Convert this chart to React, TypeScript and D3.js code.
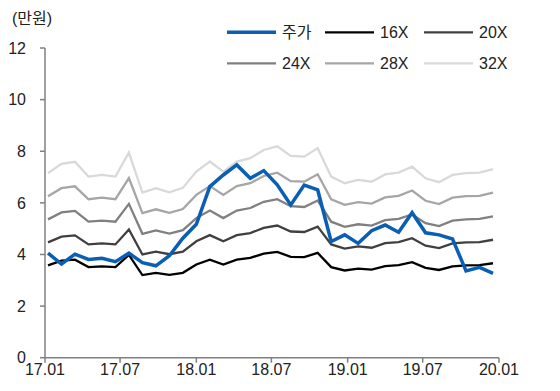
import * as d3 from 'd3';

// monthly points, 17.01 ~
const price = [4.05, 3.63, 4.01, 3.81, 3.85, 3.72, 4.05, 3.68, 3.56, 3.95, 4.63, 5.17, 6.63, 7.08, 7.47, 6.95, 7.25, 6.7, 5.92, 6.69, 6.5, 4.5, 4.76, 4.43, 4.92, 5.14, 4.86, 5.62, 4.84, 4.76, 4.6, 3.36, 3.5, 3.27];
const per16 = [3.58, 3.76, 3.80, 3.51, 3.54, 3.51, 3.98, 3.20, 3.29, 3.21, 3.29, 3.61, 3.80, 3.61, 3.80, 3.87, 4.03, 4.10, 3.91, 3.90, 4.06, 3.51, 3.38, 3.45, 3.41, 3.55, 3.59, 3.70, 3.48, 3.40, 3.54, 3.58, 3.59, 3.66];
const per20 = [4.47, 4.69, 4.74, 4.39, 4.43, 4.39, 4.97, 4.00, 4.11, 4.01, 4.11, 4.51, 4.75, 4.51, 4.75, 4.83, 5.03, 5.12, 4.89, 4.87, 5.08, 4.39, 4.23, 4.31, 4.26, 4.44, 4.48, 4.63, 4.34, 4.25, 4.43, 4.47, 4.48, 4.57];
const per24 = [5.36, 5.63, 5.69, 5.27, 5.31, 5.27, 5.96, 4.80, 4.93, 4.81, 4.94, 5.41, 5.70, 5.41, 5.70, 5.80, 6.04, 6.14, 5.87, 5.84, 6.09, 5.27, 5.07, 5.17, 5.12, 5.33, 5.38, 5.55, 5.21, 5.10, 5.31, 5.36, 5.38, 5.48];
const per28 = [6.26, 6.57, 6.64, 6.14, 6.20, 6.14, 6.96, 5.60, 5.75, 5.61, 5.76, 6.31, 6.65, 6.31, 6.65, 6.76, 7.04, 7.17, 6.84, 6.82, 7.11, 6.14, 5.92, 6.03, 5.97, 6.21, 6.27, 6.48, 6.08, 5.95, 6.20, 6.26, 6.27, 6.40];
const per32 = [7.15, 7.51, 7.59, 7.02, 7.08, 7.02, 7.95, 6.40, 6.57, 6.41, 6.58, 7.21, 7.60, 7.21, 7.60, 7.73, 8.05, 8.19, 7.82, 7.79, 8.12, 7.02, 6.76, 6.89, 6.82, 7.10, 7.17, 7.40, 6.95, 6.80, 7.08, 7.15, 7.17, 7.31];

const seriesNames = ['주가', '16X', '20X', '24X', '28X', '32X'];
const yTicks = [0, 2, 4, 6, 8, 10, 12];

const width = 560;
const height = 391;
const left = 45;
const right = 499;
const top = 48;
const bottom = 357.7;

const font = '"Liberation Sans", Arial, "Noto Sans CJK KR", sans-serif';

export default function App() {
  const y = d3.scaleLinear().domain([0, 12]).range([bottom, top]);
  const xTime = d3.scaleTime()
    .domain([new Date(2017, 0, 1), new Date(2020, 0, 1)])
    .range([left, right]);
  const xIdx = d3.scaleLinear().domain([0, price.length - 1]).range([48, 493]);
  const xTicks = xTime.ticks(d3.timeMonth.every(6));
  const fmt = d3.timeFormat('%y.%m');

  const line = d3.line<number>().x((d, i) => xIdx(i)).y(d => y(d));

  const series = [
    {name: seriesNames[5], data: per32, color: '#d9d9d9', w: 2.3},
    {name: seriesNames[4], data: per28, color: '#a6a6a6', w: 2.3},
    {name: seriesNames[3], data: per24, color: '#808080', w: 2.3},
    {name: seriesNames[2], data: per20, color: '#404040', w: 2.3},
    {name: seriesNames[1], data: per16, color: '#000000', w: 2.3},
    {name: seriesNames[0], data: price, color: '#0a5fb4', w: 3.5},
  ];
  const byName = (n: string) => series.find(s => s.name === n)!;

  // legend: 2 rows x 3
  const legendCols = [227, 325, 424];
  const legendRows = [32.3, 63.3];

  return (
    <svg width={width} height={height} style={{position: 'absolute', left: 0, top: 0}} fontFamily={font}>
      <text x={12} y={24} fontSize={16} fill="#222">(만원)</text>

      {/* y axis */}
      <line x1={left} x2={left} y1={top} y2={bottom} stroke="#808080" strokeWidth={1.5} />
      {yTicks.map(t => (
        <g key={t}>
          <line x1={left - 5} x2={left} y1={y(t)} y2={y(t)} stroke="#808080" strokeWidth={1.5} />
          <text x={26} y={y(t)} dy="0.36em" textAnchor="end" fontSize={16} fill="#222">{t}</text>
        </g>
      ))}

      {/* x axis */}
      <line x1={left} x2={right} y1={bottom} y2={bottom} stroke="#808080" strokeWidth={1.5} />
      {xTicks.map(t => (
        <g key={+t}>
          <line x1={xTime(t)} x2={xTime(t)} y1={bottom} y2={bottom + 5} stroke="#808080" strokeWidth={1.5} />
          <text x={xTime(t)} y={375} textAnchor="middle" fontSize={16} fill="#222">{fmt(t)}</text>
        </g>
      ))}

      {series.map(s => (
        <path key={s.name} d={line(s.data) || ''} fill="none" stroke={s.color} strokeWidth={s.w} strokeLinejoin="miter" />
      ))}

      {seriesNames.map((n, i) => {
        const s = byName(n);
        const lx = legendCols[i % 3];
        const ly = legendRows[Math.floor(i / 3)];
        return (
          <g key={n}>
            <line x1={lx} x2={lx + 49} y1={ly} y2={ly} stroke={s.color} strokeWidth={s.w} />
            <text x={lx + 55} y={ly} dy="0.36em" fontSize={16} fill="#222">{n}</text>
          </g>
        );
      })}
    </svg>
  );
}
